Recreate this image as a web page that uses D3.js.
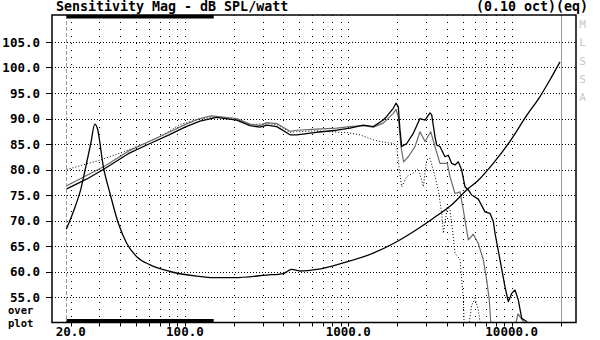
<!DOCTYPE html>
<html>
<head>
  <title>Sensitivity Mag</title>
  <style>
    body { margin: 0; background: #fff; }
    text { font-family: "DejaVu Sans Mono", monospace; font-weight: bold; fill: #000; }
    .grid { stroke: #000; stroke-width: 1px; fill: none; }
    .curve { fill: none; stroke-linejoin: round; }
  </style>
</head>
<body>
  <svg id="chart"></svg>

  <script src="https://d3js.org/d3.v7.min.js"></script>
  <script>
    // chart values
    var yTicks = [55, 60, 65, 70, 75, 80, 85, 90, 95, 100, 105];
    var xLabels = [20, 100, 1000, 10000];
    var xLabelText = ["20.0", "100.0", "1000.0", "10000.0"];
    var sideLetters = ["M", "L", "S", "S", "A"];

    // main response (black)
    var splBlack = [
      [18.9, 76.2], [25, 78.1], [32.4, 80.2], [45, 83.1], [61.2, 85.1], [80, 86.8], [100, 88.3],
      [123.7, 89.5], [156, 90.2], [207.5, 89.7], [250, 88.6], [288, 88.3], [317, 88.7], [365, 88.4],
      [440, 86.8], [483, 86.8], [640, 87.3], [850, 87.7], [1024, 88.1], [1235, 88.7], [1422, 88.4],
      [1638, 89.7], [1718, 90.4], [1885, 92.0], [1959, 93.0], [2023, 92.3], [2072, 87.7], [2123, 84.5],
      [2277, 85.1], [2499, 87.1], [2747, 90.0], [2947, 89.7], [3162, 91.1], [3239, 90.7], [3393, 86.4],
      [3475, 84.8], [3640, 84.5], [3907, 82.5], [4093, 82.8], [4294, 81.2], [4498, 80.9], [4713, 81.5],
      [4943, 79.9], [5178, 76.6], [5424, 76.0], [5691, 75.0], [6245, 74.2], [6864, 71.7], [7364, 71.4],
      [7716, 69.8], [7904, 67.5], [8480, 62.3], [9100, 57.0], [9533, 54.1], [10000, 55.7], [10475, 56.4],
      [10975, 54.4], [11515, 50.8], [12353, 50.2], [13000, 46]
    ];

    // second response (gray)
    var splGray = [
      [18.9, 76.8], [32.4, 80.7], [45, 83.6], [61.2, 85.6], [80, 87.3], [100, 88.8], [123.7, 90.0],
      [145, 90.5], [207.5, 90.0], [250, 88.9], [288, 88.6], [317, 89.2], [365, 89.0], [440, 87.5],
      [483, 87.7], [640, 87.9], [850, 88.1], [1024, 88.4], [1235, 88.6], [1422, 88.3], [1638, 89.1],
      [1885, 91.0], [1959, 91.8], [2023, 90.4], [2100, 84.5], [2180, 81.5], [2329, 82.5], [2559, 84.5],
      [2747, 87.4], [2947, 85.5], [3194, 87.4], [3393, 84.5], [3640, 81.2], [4036, 81.2], [4193, 78.6],
      [4498, 75.3], [4831, 75.6], [5056, 72.1], [5424, 66.2], [5821, 67.3], [6245, 65.5], [6703, 62.3],
      [7031, 58.3], [7295, 54.4], [7437, 50.2], [7800, 44], [9500, 42], [10100, 47], [10930, 51.7],
      [11780, 50.2], [12500, 45]
    ];

    // third response (dotted)
    var splDotted = [
      [18.9, 80.0], [30, 81.8], [40, 83.2], [55, 84.9], [70, 86.4], [93, 88.8], [123, 89.9],
      [156, 90.3], [207, 89.9], [250, 88.8], [317, 89.0], [365, 88.8], [440, 87.3], [483, 87.4],
      [640, 87.6], [770, 87.4], [1000, 87.2], [1179, 86.8], [1422, 85.8], [1563, 85.5], [1885, 85.1],
      [1978, 84.5], [2052, 79.9], [2123, 76.6], [2277, 78.6], [2499, 79.3], [2682, 80.2], [2813, 77.9],
      [2877, 76.6], [3018, 81.9], [3162, 82.2], [3313, 79.9], [3554, 76.0], [3729, 71.4], [3815, 67.5],
      [3907, 69.5], [4036, 72.7], [4193, 72.1], [4391, 66.8], [4498, 63.6], [4831, 62.3], [4943, 58.3],
      [5056, 55.0], [5105, 50.5], [5250, 46], [5503, 50.0], [5691, 53.4], [5963, 54.7], [6245, 52.5],
      [6397, 50.2], [6700, 46]
    ];

    // impedance-like curve (black)
    var impCurve = [
      [18.8, 68.3], [21.3, 72.7], [23, 76], [24.5, 79.9], [26.5, 85], [28.1, 88.9], [29.1, 88.1],
      [31.7, 80.5], [34.8, 75.3], [39.2, 69.4], [44.1, 65.5], [50.7, 62.9], [61.2, 61.3], [81, 60],
      [118, 59.1], [150, 58.8], [200, 58.8], [316, 59.3], [400, 59.6], [450, 60.4], [505, 60.1],
      [640, 60.4], [930, 61.7], [1420, 63.6], [1890, 65.5], [2500, 67.8], [3300, 70.4], [4400, 73.4],
      [5300, 76], [6250, 77.9], [7710, 81.2], [9760, 85.5], [12360, 90.6], [14900, 94.3], [17160, 97.6],
      [19750, 101.1]
    ];

    var width = 600, height = 340;
    // plot frame (note: "top" is reserved on window, so prefixed names)
    var pLeft = 52, pRight = 576, pTop = 15, pBottom = 322.5;

    var svg = d3.select("#chart").attr("width", width).attr("height", height);

    var x = d3.scaleLog().domain([20, 10000]).range([70.7, 511.7]);
    var y = d3.scaleLinear().domain([50, 110]).range([322.5, 16.5]);

    // vertical grid frequencies 20..20000
    var gridFreqs = [];
    [10, 100, 1000, 10000].forEach(function(d) {
      for (var m = 1; m <= 9; m++) {
        var f = d * m;
        if (f >= 20 && f <= 20000) gridFreqs.push(f);
      }
    });

    svg.append("defs").append("clipPath").attr("id", "plotclip")
      .append("rect").attr("x", pLeft).attr("y", pTop)
      .attr("width", pRight - pLeft).attr("height", pBottom - pTop);

    // grid
    svg.append("g").selectAll("line").data(yTicks).enter().append("line")
      .attr("class", "grid")
      .attr("x1", pLeft).attr("x2", pRight)
      .attr("y1", function(d) { return Math.round(y(d)) + 0.5; })
      .attr("y2", function(d) { return Math.round(y(d)) + 0.5; })
      .attr("stroke-dasharray", "1,2");

    svg.append("g").selectAll("line").data(gridFreqs).enter().append("line")
      .attr("class", "grid")
      .attr("y1", pTop).attr("y2", pBottom)
      .attr("x1", function(d) { return Math.round(x(d)) + 0.5; })
      .attr("x2", function(d) { return Math.round(x(d)) + 0.5; })
      .attr("stroke-dasharray", "1,6");

    // frequency limit markers
    svg.append("line")
      .attr("x1", 66.5).attr("x2", 66.5).attr("y1", pTop).attr("y2", pBottom)
      .attr("stroke", "#999").attr("stroke-dasharray", "4,2");
    svg.append("line")
      .attr("x1", Math.round(x(20000)) + 0.5).attr("x2", Math.round(x(20000)) + 0.5)
      .attr("y1", pTop).attr("y2", pBottom)
      .attr("stroke", "#999");

    // thick bars at top and bottom
    [pTop, pBottom - 3.5].forEach(function(yy) {
      svg.append("rect").attr("x", 66.5).attr("y", yy).attr("width", x(150) - 66.5).attr("height", 3.5)
        .attr("fill", "#000");
    });

    // curves
    var line = d3.line()
      .x(function(d) { return x(d[0]); })
      .y(function(d) { return y(d[1]); });
    var smoothLine = d3.line()
      .x(function(d) { return x(d[0]); })
      .y(function(d) { return y(d[1]); })
      .curve(d3.curveMonotoneX);

    var curves = svg.append("g").attr("clip-path", "url(#plotclip)");
    curves.append("path").datum(splDotted).attr("class", "curve")
      .attr("d", line).attr("stroke", "#000").attr("stroke-width", 1).attr("stroke-dasharray", "1,2");
    curves.append("path").datum(splGray).attr("class", "curve")
      .attr("d", line).attr("stroke", "#6a6a6a").attr("stroke-width", 1.2);
    curves.append("path").datum(splBlack).attr("class", "curve")
      .attr("d", line).attr("stroke", "#000").attr("stroke-width", 1.3);
    curves.append("path").datum(impCurve).attr("class", "curve")
      .attr("d", smoothLine).attr("stroke", "#000").attr("stroke-width", 1.3);

    // frame
    svg.append("rect").attr("x", pLeft).attr("y", pTop)
      .attr("width", pRight - pLeft).attr("height", pBottom - pTop)
      .attr("fill", "none").attr("stroke", "#000").attr("stroke-width", 1.5);

    // y axis ticks and labels
    var yAxis = svg.append("g");
    yAxis.selectAll("line").data(yTicks).enter().append("line")
      .attr("x1", pLeft - 6).attr("x2", pLeft)
      .attr("y1", function(d) { return Math.round(y(d)) + 0.5; })
      .attr("y2", function(d) { return Math.round(y(d)) + 0.5; })
      .attr("stroke", "#000");
    yAxis.selectAll("text").data(yTicks).enter().append("text")
      .attr("x", 40).attr("y", function(d) { return y(d); })
      .attr("dy", "0.36em").attr("text-anchor", "end").style("font-size", "12.5px")
      .text(function(d) { return d3.format(".1f")(d); });

    // x axis ticks and labels
    var xAxis = svg.append("g");
    xAxis.selectAll("line").data(gridFreqs).enter().append("line")
      .attr("x1", function(d) { return Math.round(x(d)) + 0.5; })
      .attr("x2", function(d) { return Math.round(x(d)) + 0.5; })
      .attr("y1", pBottom).attr("y2", pBottom + 4)
      .attr("stroke", "#000");
    xAxis.selectAll("text").data(xLabels).enter().append("text")
      .attr("x", function(d) { return x(d); }).attr("y", 336)
      .attr("text-anchor", "middle").style("font-size", "12.5px")
      .text(function(d, i) { return xLabelText[i]; });

    // "over plot" as one two-line label
    var op = svg.append("text").style("font-size", "10.5px");
    op.append("tspan").attr("x", 8).attr("y", 314).text("over");
    op.append("tspan").attr("x", 8).attr("y", 326.5).text("plot");

    // titles
    svg.append("text").attr("x", 56).attr("y", 11).style("font-size", "13.3px")
      .text("Sensitivity Mag - dB SPL/watt");
    svg.append("text").attr("x", 588).attr("y", 11).attr("text-anchor", "end").style("font-size", "13.3px")
      .text("(0.10 oct)(eq)");

    svg.append("g").selectAll("text").data(sideLetters).enter().append("text")
      .attr("x", 582.5).attr("y", function(d, i) { return 24 + i * 18.3; })
      .attr("dy", "0.36em").attr("text-anchor", "middle")
      .style("font-size", "11px").style("font-weight", "normal").style("fill", "#c8c8c8")
      .text(function(d) { return d; });
  </script>
</body>
</html>
